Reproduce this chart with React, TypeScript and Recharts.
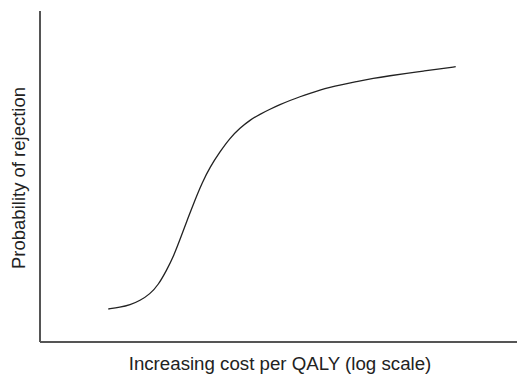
import { Label, Line, LineChart, XAxis, YAxis } from "recharts"

const AXIS_COLOR = "#555555"
const LINE_COLOR = "#222222"
const FONT = "'Liberation Sans', Arial, Helvetica, sans-serif"

// cost (log scale, relative units) vs probability of rejection (relative units)
const cost = [
  14.32, 16.77, 18.87, 20.96, 23.06, 24.8, 26.56, 27.95, 29.71, 31.03, 32.49, 33.96, 35.64, 37.74, 39.83, 41.93,
  44.03, 46.12, 48.22, 50.31, 52.41, 54.51, 56.6, 58.7, 60.8, 62.89, 66.39, 69.87, 73.38, 76.88, 80.36, 83.86, 87.15,
]
const rejection = [
  9.97, 10.48, 11.18, 12.48, 14.5, 17.22, 21.75, 25.68, 32.33, 37.46, 42.9, 48.04, 52.87, 57.49, 61.63, 64.65,
  67.07, 68.82, 70.33, 71.72, 72.99, 74.11, 75.14, 76.13, 76.95, 77.64, 78.7, 79.67, 80.45, 81.18, 81.87, 82.48, 83.17,
]

const xTitle = "Increasing cost per QALY (log scale)"
const yTitle = "Probability of rejection"

const data = cost.map((x, i) => ({ x, y: rejection[i] }))

function YTitle({ viewBox }: any) {
  const { x = 0, y = 0, width = 40, height = 0 } = viewBox || {}
  const cx = x + width / 2 - 1.5
  const cy = y + height / 2 + 1.5
  return (
    <text
      x={cx}
      y={cy}
      transform={`rotate(-90, ${cx}, ${cy})`}
      textAnchor="middle"
      dominantBaseline="central"
      fontSize={18.5}
      fontFamily={FONT}
      fill="#222"
    >
      {yTitle}
    </text>
  )
}

function XTitle({ viewBox }: any) {
  const { x = 0, y = 0, width = 0 } = viewBox || {}
  return (
    <text
      x={x + width / 2 + 1.5}
      y={y + 28}
      textAnchor="middle"
      fontSize={18.7}
      fontFamily={FONT}
      fill="#222"
    >
      {xTitle}
    </text>
  )
}

export default function App() {
  return (
    <div style={{ width: 517, height: 374 }}>
      <style>{"body{margin:0}"}</style>
      <LineChart width={517} height={374} data={data} margin={{ top: 11, right: 0, left: 0, bottom: 0 }}>
        <XAxis
          dataKey="x"
          type="number"
          domain={[0, 100]}
          tick={false}
          tickLine={false}
          height={32}
          axisLine={{ stroke: AXIS_COLOR, strokeWidth: 2 }}
        >
          <Label content={<XTitle />} />
        </XAxis>
        <YAxis
          type="number"
          domain={[0, 100]}
          tick={false}
          tickLine={false}
          width={40}
          axisLine={{ stroke: AXIS_COLOR, strokeWidth: 2 }}
        >
          <Label content={<YTitle />} />
        </YAxis>
        <Line
          type="basis"
          dataKey="y"
          stroke={LINE_COLOR}
          strokeWidth={1.3}
          dot={false}
          isAnimationActive={false}
        />
      </LineChart>
    </div>
  )
}
